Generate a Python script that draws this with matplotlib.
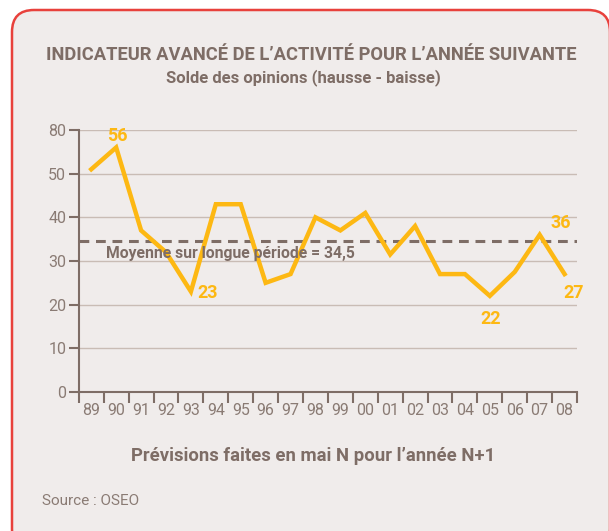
import matplotlib
matplotlib.use('Agg')
import matplotlib.pyplot as plt
import matplotlib.patches as mpatches
from matplotlib.transforms import IdentityTransform
from matplotlib import font_manager
import numpy as np

# ── Data ──────────────────────────────────────────────────────────────────────
years  = ["89", "90", "91", "92", "93", "94", "95", "96", "97", "98",
          "99", "00", "01", "02", "03", "04", "05", "06", "07", "08"]
solde  = [51, 56, 37, 32, 23, 43, 43, 25, 27, 40,
          37, 41, 31.5, 38, 27, 27, 22, 27.5, 36, 27]
mean_value = 34.5
ytick_vals   = [0, 10, 20, 30, 40, 50, 60]
ytick_labels = ["0", "10", "20", "30", "40", "50", "80"]
labelled = {1: "56", 4: "23", 16: "22", 18: "36", 19: "27"}

# ── Style ─────────────────────────────────────────────────────────────────────
BG     = "#f0eceb"
BROWN  = "#7e6d66"
LIGHT  = "#8a7b74"
GRID   = "#c9bcb5"
YELLOW = "#fdb813"
RED    = "#e8413c"

names = {f.name for f in font_manager.fontManager.ttflist}
FONT = ["Liberation Sans Narrow", "DejaVu Sans"] if "Liberation Sans Narrow" in names \
    else ["Roboto", "DejaVu Sans"]
plt.rcParams["font.family"] = FONT

fig = plt.figure(figsize=(6.09, 5.31), dpi=100, facecolor="white")

# rounded frame in pixel coordinates
frame = mpatches.FancyBboxPatch((12, -20), 598, 541,
                                boxstyle="round,pad=0,rounding_size=22",
                                transform=IdentityTransform(),
                                facecolor=BG, edgecolor=RED, linewidth=1.8,
                                zorder=-5)
fig.patches.append(frame)

ax = fig.add_axes([0.1294, 0.2618, 0.8181, 0.4934])
ax.set_facecolor("none")
x = np.arange(len(years))

ax.set_xlim(-0.5, len(years) - 0.5)
ax.set_ylim(0, 60)

for v in ytick_vals[1:]:
    ax.axhline(v, color=GRID, linewidth=1.0, zorder=1)

ax.axhline(mean_value, color=BROWN, linewidth=2.2, linestyle=(0, (3.2, 2.2)), zorder=2)
ax.plot(x, solde, color=YELLOW, linewidth=3.2, solid_joinstyle="miter", zorder=3)

ax.text(0.6, mean_value - 1.0, "Moyenne sur longue période = 34,5",
        color=BROWN, fontsize=11.3, fontweight="bold", va="top", ha="left", zorder=4)

offsets = {1: (0.05, 0.6, "center", "bottom"),
           4: (0.25, -0.4, "left", "center"),
           16: (0.05, -3.2, "center", "top"),
           18: (0.85, 0.6, "center", "bottom"),
           19: (0.35, -2.2, "center", "top")}
for i, txt in labelled.items():
    dx, dy, ha, va = offsets[i]
    ax.text(x[i] + dx, solde[i] + dy, txt, color=YELLOW, fontsize=13,
            fontweight="bold", ha=ha, va=va, zorder=4)

for side in ["top", "right"]:
    ax.spines[side].set_visible(False)
for side in ["left", "bottom"]:
    ax.spines[side].set_color(BROWN)
    ax.spines[side].set_linewidth(1.5)

ax.set_yticks(ytick_vals)
ax.set_yticklabels(ytick_labels)
ax.set_xticks(np.arange(-0.5, len(years), 1.0))
ax.set_xticklabels([])
ax.set_xticks(x, minor=True)
ax.set_xticklabels(years, minor=True)
ax.tick_params(axis="x", which="major", length=8, width=1.5, color=BROWN, direction="out")
ax.tick_params(axis="x", which="minor", length=0, pad=8, labelsize=11.5, labelcolor=LIGHT)
ax.tick_params(axis="y", length=7, width=1.5, color=BROWN, labelsize=11.5,
               labelcolor=LIGHT, pad=2)

fig.text(311 / 609, 1 - 55 / 531, "INDICATEUR AVANCÉ DE L’ACTIVITÉ POUR L’ANNÉE SUIVANTE",
         ha="center", va="center", color=BROWN, fontsize=13.2, fontweight="bold")
fig.text(303 / 609, 1 - 78 / 531, "Solde des opinions (hausse - baisse)",
         ha="center", va="center", color=BROWN, fontsize=12, fontweight="bold")
fig.text(313 / 609, 1 - 456 / 531, "Prévisions faites en mai N pour l’année N+1",
         ha="center", va="center", color=BROWN, fontsize=13.3, fontweight="bold")
fig.text(42 / 609, 1 - 501 / 531, "Source : OSEO",
         ha="left", va="center", color=LIGHT, fontsize=11)

fig.savefig("out.png", dpi=100, facecolor="white")
